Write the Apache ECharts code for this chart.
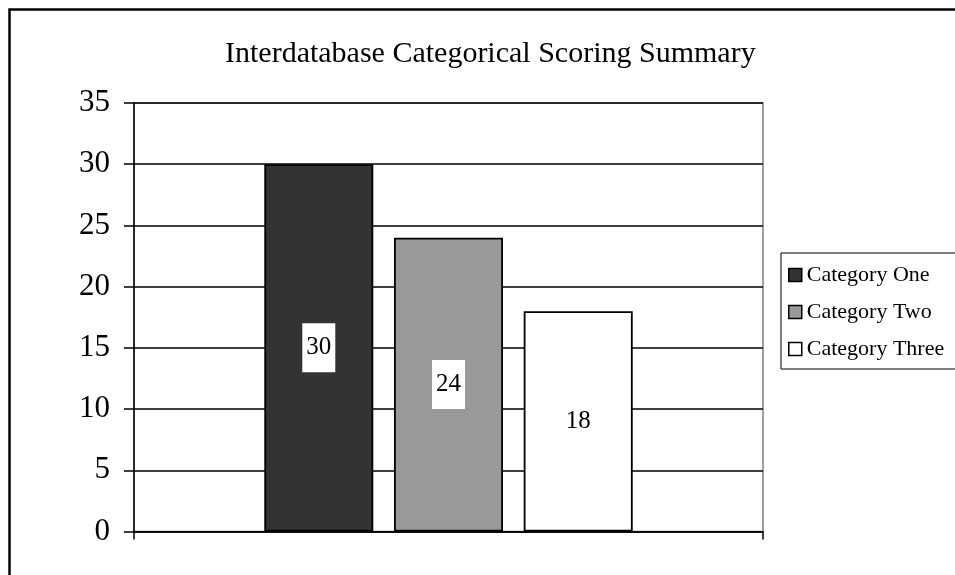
<!DOCTYPE html>
<html>
<head>
<meta charset="utf-8">
<script src="https://cdn.jsdelivr.net/npm/echarts@6/dist/echarts.min.js"></script>
<style>html,body{margin:0;padding:0;background:#fff;}#c{width:955px;height:575px;}</style>
</head>
<body>
<div id="c"></div>
<script>
const titleText = 'Interdatabase Categorical Scoring Summary';
const categories = [''];
const seriesNames = ['Category One', 'Category Two', 'Category Three'];
const seriesValues = [[30], [24], [18]];
const seriesColors = ['#333333', '#999999', '#ffffff'];
const yTicks = { min: 0, max: 35, interval: 5 };

const serif = '"Liberation Serif", "Times New Roman", serif';
const chart = echarts.init(document.getElementById('c'), null, { renderer: 'canvas' });

const series = seriesNames.map((name, i) => ({
  name: name,
  type: 'bar',
  data: seriesValues[i],
  barWidth: 109,
  barGap: '19%',
  itemStyle: { color: seriesColors[i], borderColor: '#000', borderWidth: 1.8 },
  label: {
    show: true,
    position: 'inside',
    color: '#000',
    fontFamily: serif,
    fontSize: 25,
    backgroundColor: '#fff',
    padding: [12, 4, 12, 4]
  }
}));

chart.setOption({
  animation: false,
  backgroundColor: '#fff',
  title: {
    text: titleText,
    left: 220,
    top: 34,
    textStyle: { fontFamily: serif, fontSize: 30, fontWeight: 'normal', color: '#000' }
  },
  legend: {
    data: seriesNames,
    orient: 'vertical',
    left: 781,
    top: 253,
    padding: [11, 40, 9, 7],
    itemGap: 15,
    itemWidth: 13,
    itemHeight: 13,
    icon: 'rect',
    borderColor: '#000',
    borderWidth: 1,
    itemStyle: { borderColor: '#000', borderWidth: 1.5 },
    textStyle: { fontFamily: serif, fontSize: 22, color: '#000' },
    selectedMode: false
  },
  grid: {
    left: 134, right: 192, top: 103, bottom: 43.5,
    show: true, borderColor: '#808080', borderWidth: 1.5, backgroundColor: '#fff'
  },
  xAxis: {
    type: 'category',
    data: categories,
    axisLine: { lineStyle: { color: '#000', width: 1.5 } },
    axisTick: { show: true, length: 8, alignWithLabel: false, lineStyle: { color: '#000', width: 1.5 } },
    axisLabel: { show: false },
    splitLine: { show: false }
  },
  yAxis: {
    type: 'value',
    min: yTicks.min, max: yTicks.max, interval: yTicks.interval,
    axisLine: { show: true, lineStyle: { color: '#000', width: 1.5 } },
    axisTick: { show: true, length: 10, lineStyle: { color: '#000', width: 1.5 } },
    axisLabel: { margin: 24, fontFamily: serif, fontSize: 31, color: '#000' },
    splitLine: { show: true, lineStyle: { color: '#000', width: 1.5 } }
  },
  graphic: [{
    type: 'rect',
    shape: { x: 9.5, y: 9.5, width: 1000, height: 1000 },
    style: { fill: 'none', stroke: '#000', lineWidth: 2.5 },
    silent: true
  }],
  series: series
});
</script>
</body>
</html>
